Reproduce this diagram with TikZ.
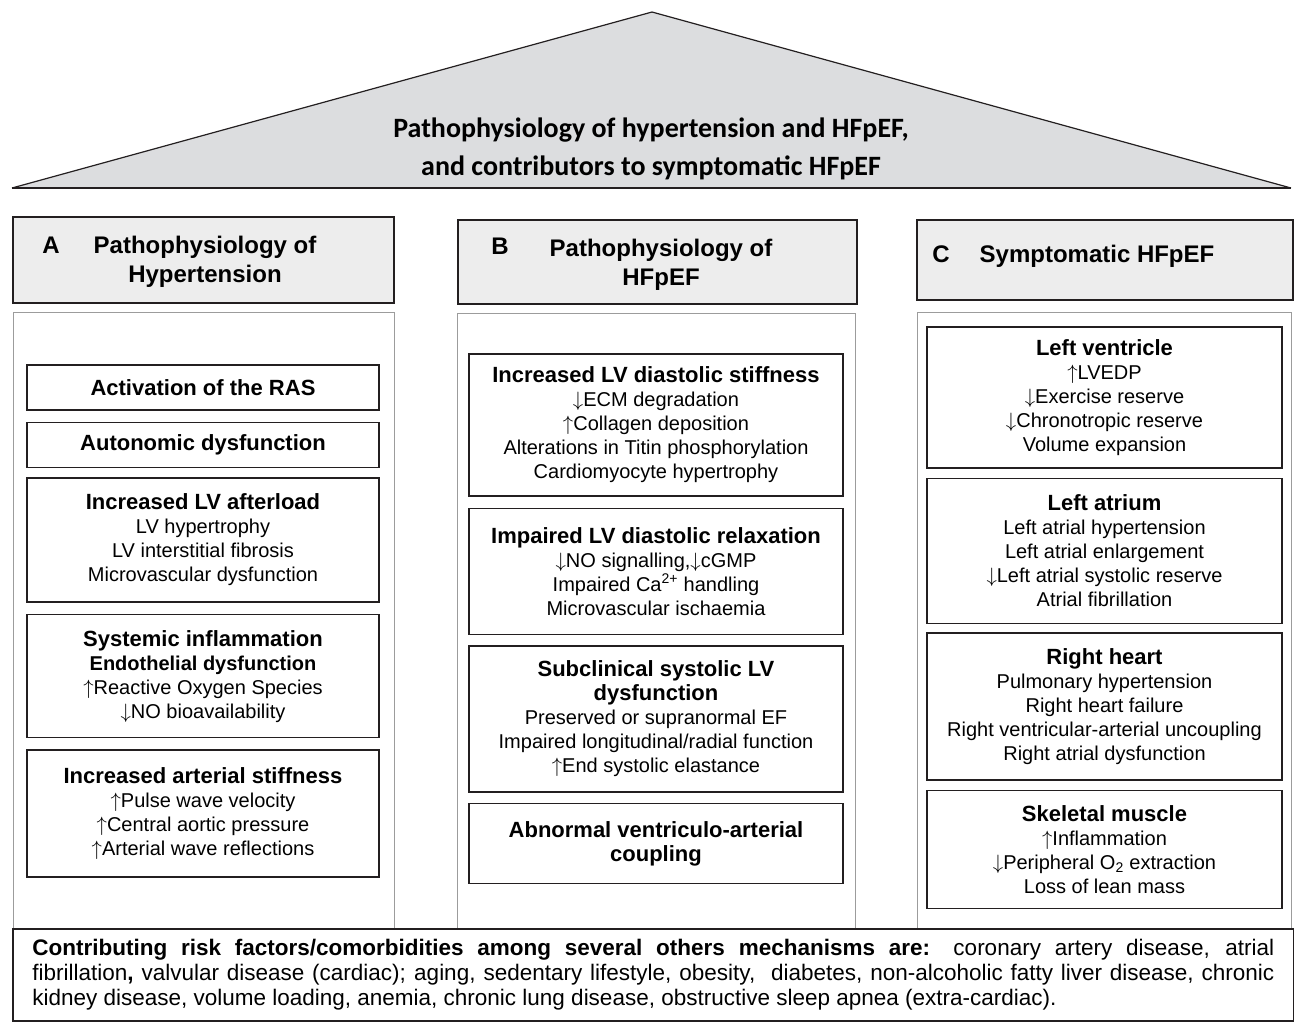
\documentclass[tikz,border=0pt]{standalone}
\usepackage{fontspec}
\setmainfont{Liberation Sans}
\newfontfamily\roofface{Carlito}
\usetikzlibrary{positioning}
\definecolor{frameDark}{HTML}{231F20}
\definecolor{panelGray}{HTML}{9C9C9C}
\definecolor{headFill}{HTML}{EDEDED}
\definecolor{roofFill}{HTML}{DCDDDF}
\newcommand{\boxhead}[1]{{\fontsize{22}{24}\selectfont\bfseries #1}}
\newcommand{\arrUp}{$\uparrow$}
\newcommand{\arrDn}{$\downarrow$}
\tikzset{
  itembox/.style={
    draw=frameDark,
    line width=1.6pt,
    fill=white,
    align=center,
    inner sep=3pt,
    font=\fontsize{20}{24}\selectfont
  },
  itemA/.style={itembox, minimum width=352pt},
  itemB/.style={itembox, minimum width=374pt},
  itemC/.style={itembox, minimum width=355pt},
  headbox/.style={
    draw=frameDark,
    line width=1.6pt,
    fill=headFill,
    anchor=north west
  },
  headtext/.style={
    font=\fontsize{24}{29}\selectfont\bfseries,
    align=center,
    inner sep=0pt
  },
  panel/.style={
    draw=panelGray,
    line width=1.3pt,
    anchor=north west
  },
  footbox/.style={
    draw=frameDark,
    line width=1.6pt,
    fill=white,
    anchor=north west,
    text width=1242pt,
    inner xsep=19.5pt,
    minimum height=92pt,
    align=justify,
    font=\fontsize{22.5}{25}\selectfont
  }
}

\begin{document}
\begin{tikzpicture}[x=1pt,y=-1pt]
\useasboundingbox (0,0) rectangle (1294,1026);

\fill[roofFill] (12,188) -- (652,12) -- (1291,188) -- cycle;
\draw[frameDark, line width=1.2pt] (12,188) -- (652,12) -- (1291,188);
\draw[frameDark, line width=2.4pt] (12,188) -- (1291,188);
\node[font=\roofface\fontsize{28}{38}\selectfont\bfseries, align=center] (roofText) at (651,149)
  {Pathophysiology of hypertension and HFpEF,\\and contributors to symptomatic HFpEF};

\node[panel, minimum width=381pt, minimum height=616pt] (panelA) at (13,312) {};
\node[panel, minimum width=398pt, minimum height=615pt] (panelB) at (457,313) {};
\node[panel, minimum width=374pt, minimum height=616pt] (panelC) at (917,312) {};

\node[headbox, minimum width=381pt, minimum height=86pt] (headA) at (12,216) {};
\node[headbox, minimum width=399pt, minimum height=84pt] (headB) at (457,219) {};
\node[headbox, minimum width=376pt, minimum height=80pt] (headC) at (916,219) {};
\node[headtext, anchor=base] (letA) at (51,253.6) {A};
\node[headtext] (titleA) at (205,262) {Pathophysiology of\\Hypertension};
\node[headtext, anchor=base] (letB) at (500,254.6) {B};
\node[headtext] (titleB) at (661,265) {Pathophysiology of\\HFpEF};
\node[headtext, anchor=base] (letC) at (941,262.6) {C};
\node[headtext, anchor=base] (titleC) at (1097,262.6) {Symptomatic HFpEF};

\node[itemA, minimum height=45pt, anchor=north] (ras) at (203,364) {\boxhead{Activation of the RAS}};
\node[itemA, minimum height=45pt, below=11pt of ras] (autonomic) {\boxhead{Autonomic dysfunction}};
\node[itemA, minimum height=124pt, below=9pt of autonomic] (afterload)
  {\boxhead{Increased LV afterload}\\LV hypertrophy\\LV interstitial fibrosis\\Microvascular dysfunction};
\node[itemA, minimum height=123pt, below=11pt of afterload] (inflam)
  {\boxhead{Systemic inflammation}\\\textbf{Endothelial dysfunction}\\\arrUp Reactive Oxygen Species\\\arrDn NO bioavailability};
\node[itemA, minimum height=127pt, below=11pt of inflam] (arterial)
  {\boxhead{Increased arterial stiffness}\\\arrUp Pulse wave velocity\\\arrUp Central aortic pressure\\\arrUp Arterial wave reflections};

\node[itemB, minimum height=142pt, anchor=north] (stiff) at (656,353)
  {\boxhead{Increased LV diastolic stiffness}\\\arrDn ECM degradation\\\arrUp Collagen deposition\\Alterations in Titin phosphorylation\\Cardiomyocyte hypertrophy};
\node[itemB, minimum height=126pt, below=11pt of stiff] (relax)
  {\boxhead{Impaired LV diastolic relaxation}\\\arrDn NO signalling,\arrDn cGMP\\Impaired Ca\textsuperscript{2+} handling\\Microvascular ischaemia};
\node[itemB, minimum height=146pt, below=10pt of relax] (subclin)
  {\boxhead{Subclinical systolic LV}\\\boxhead{dysfunction}\\Preserved or supranormal EF\\Impaired longitudinal/radial function\\\arrUp End systolic elastance};
\node[itemB, minimum height=80pt, below=10pt of subclin] (coupling)
  {\boxhead{Abnormal ventriculo-arterial}\\\boxhead{coupling}};

\node[itemC, minimum height=141pt, anchor=north] (leftvent) at (1104.5,326)
  {\boxhead{Left ventricle}\\\arrUp LVEDP\\\arrDn Exercise reserve\\\arrDn Chronotropic reserve\\Volume expansion};
\node[itemC, minimum height=145pt, below=9pt of leftvent] (leftatr)
  {\boxhead{Left atrium}\\Left atrial hypertension\\Left atrial enlargement\\\arrDn Left atrial systolic reserve\\Atrial fibrillation};
\node[itemC, minimum height=147pt, below=8pt of leftatr] (rightheart)
  {\boxhead{Right heart}\\Pulmonary hypertension\\Right heart failure\\Right ventricular-arterial uncoupling\\Right atrial dysfunction};
\node[itemC, minimum height=118pt, below=9pt of rightheart] (skeletal)
  {\boxhead{Skeletal muscle}\\\arrUp Inflammation\\\arrDn Peripheral O\textsubscript{2} extraction\\Loss of lean mass};

\node[footbox] (risk) at (12,928)
  {\tolerance=9999\hyphenpenalty=10000
  \textbf{Contributing risk factors/comorbidities among several others mechanisms are:} coronary artery disease, atrial\linebreak
  fibrillation\textbf{,} valvular disease (cardiac); aging, sedentary lifestyle, obesity, \ diabetes, non-alcoholic fatty liver disease, chronic\linebreak
  kidney disease, volume loading, anemia, chronic lung disease, obstructive sleep apnea (extra-cardiac).};
\end{tikzpicture}
\end{document}
